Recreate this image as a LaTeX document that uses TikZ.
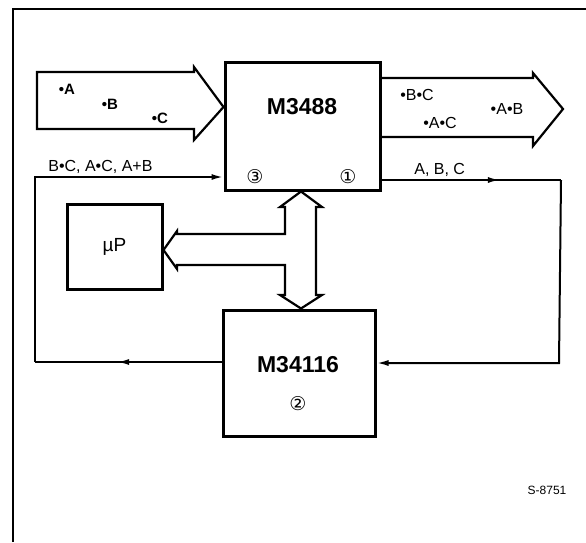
\documentclass[tikz,border=0pt]{standalone}
\usepackage{fontspec}
\setmainfont{Liberation Sans}
\newfontfamily\circfont{DejaVu Sans}
\usetikzlibrary{arrows.meta,decorations.markings}

\begin{document}
\begin{tikzpicture}[x=1pt,y=-1pt,>={Latex[length=12pt,width=6pt]},line width=2pt,
    chip/.style={draw,line width=3pt,inner sep=0pt},
    midtip/.style={postaction={decorate},decoration={markings,mark=at position #1 with {\arrow{>}}}},
    sig/.style={font=\fontsize{16}{18}\selectfont},
    num/.style={font=\circfont\fontsize{19}{21}\selectfont}]
  \useasboundingbox (0,0) rectangle (586,542);
  % frame
  \draw[line width=1.2pt] (13,542) -- (13,9) -- (586,9);
  % blocks
  \node[chip,minimum width=155pt,minimum height=128pt] (m3488) at (302.5,126) {};
  \node[font=\bfseries\fontsize{23}{26}\selectfont] (t3488) at (302,107) {M3488};
  \node[chip,minimum width=152pt,minimum height=126pt] (m34116) at (299,373) {};
  \node[font=\bfseries\fontsize{23}{26}\selectfont] (t34116) at (298,365) {M34116};
  \node[chip,minimum width=95pt,minimum height=85pt,font=\fontsize{19}{22}\selectfont] (up) at (114.5,246.5) {µP};
  \node[num] (n3) at (255,177) {③};
  \node[num] (n1) at (348,177) {①};
  \node[num] (n2) at (298,404) {②};
  % wide input and output arrows
  \draw[line width=2.2pt] (37,72) -- (194,72) -- (194,67) -- (m3488.west |- 0,107) -- (194,140) -- (194,129) -- (37,129) -- cycle;
  \draw[line width=2.2pt] (m3488.east |- 0,78) -- (533,78) -- (533,73) -- (563,109) -- (533,146) -- (533,137) -- (m3488.east |- 0,137);
  \foreach \x/\y/\txt in {67/89/A,110/104/B,160/118/C}
    \node[font=\bfseries\fontsize{15}{17}\selectfont] (in\txt) at (\x,\y) {•\txt};
  \node[sig] (obc) at (417,95) {•B•C};
  \node[sig] (oac) at (440,123) {•A•C};
  \node[sig] (oab) at (507,109) {•A•B};
  % bus to the microprocessor
  \draw[line width=2.2pt] (m3488.south -| 301,0) -- (322,207) -- (316,207) -- (316,295) -- (322,295) -- (m34116.north -| 301,0)
    -- (280,295) -- (285,295) -- (285,265) -- (177,265) -- (177,269) -- (up.east |- 0,250) -- (177,231) -- (177,234)
    -- (285,234) -- (285,207) -- (280,207) -- cycle;
  % feedback loops
  \coordinate (fbl) at (35,177);
  \coordinate (fbb) at (35,362);
  \coordinate (otr) at (561,180);
  \coordinate (obr) at (559,363);
  \draw[midtip=.56] (m34116.west |- fbb) -- (fbb);
  \draw[->] (fbb) -- (fbl) -- (m3488.west |- fbl);
  \draw[midtip=.66] (m3488.east |- otr) -- (otr);
  \draw[->] (otr) -- (obr) -- (m34116.east |- obr);
  \node[sig,anchor=base west] (fbtxt) at (44,171) {B•C, A•C, A+B};
  \node[sig,anchor=base west] (abc) at (410,174) {A, B, C};
  \node[font=\fontsize{12}{14}\selectfont] (ref) at (547,490) {S-8751};
\end{tikzpicture}
\end{document}
